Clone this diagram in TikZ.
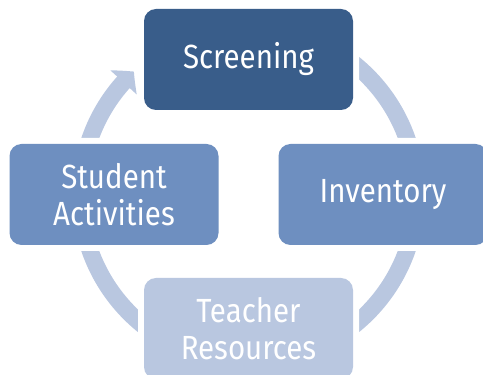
\documentclass[tikz,border=0pt]{standalone}
\usepackage{fontspec}
\setmainfont[FakeStretch=0.88]{Fira Sans}
\usetikzlibrary{arrows.meta,bending}

\definecolor{stepdark}{RGB}{57,93,138}
\definecolor{stepmid}{RGB}{110,143,192}
\definecolor{steplight}{RGB}{185,199,224}

\begin{document}
\begin{tikzpicture}[x=1pt,y=1pt,
  stage/.style={rounded corners=12pt,minimum width=209pt,minimum height=101pt,
    text=white,align=center,inner sep=0pt,font=\fontsize{33.5}{37.5}\selectfont,
    preaction={draw=white,line width=12pt}},
  ring/.style={color=steplight,line width=17pt}]

\useasboundingbox (0,0) rectangle (483,375);
\clip (0,0) rectangle (483,375);

\coordinate (c) at (248.5,180.5);

% the cycle, drawn under the boxes
\draw[ring,-{Triangle[width=35pt,length=15pt,bend]}] ([shift={(90:168)}]c)
  arc[start angle=90,end angle=-227,radius=168];

\node[stage,fill=stepdark]  (screening) at ([shift={(90:135)}]c)  {Screening};
\node[stage,fill=stepmid]   (inventory) at ([shift={(0:134.5)}]c) {Inventory};
\node[stage,fill=steplight] (teacher)   at ([shift={(-90:134)}]c) {Teacher\\Resources};
\node[stage,fill=stepmid]   (student)   at ([shift={(180:134.5)}]c) {Student\\Activities};

\end{tikzpicture}
\end{document}
